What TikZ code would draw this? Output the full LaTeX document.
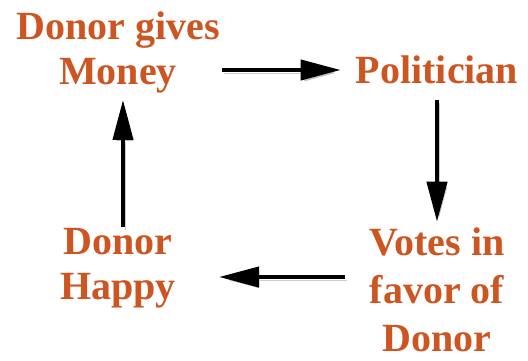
\documentclass[tikz,border=0pt]{standalone}
\usepackage{fontspec}
\setmainfont{Liberation Serif}
\usetikzlibrary{arrows.meta}
\definecolor{txt}{HTML}{CC5522}
\begin{document}
\begin{tikzpicture}[x=1pt,y=1pt,
  lbl/.style={font=\bfseries\fontsize{40}{45}\selectfont, text=txt, align=center, inner sep=2pt},
  arr/.style={line width=4pt, -{Triangle[length=40pt,width=20pt]},
    preaction={draw=black, opacity=0.2, transform canvas={xshift=2pt,yshift=-3pt}}}]
\useasboundingbox (0,0) rectangle (528,360);
\node[lbl] (dg) at (118,308) {Donor gives\\Money};
\node[lbl] (pol) at (437,290) {Politician};
\node[lbl, font=\bfseries\fontsize{40}{48}\selectfont] (votes) at (437,70) {Votes in\\favor of\\Donor};
\node[lbl] (happy) at (118,92) {Donor\\Happy};
\draw[arr] (dg.east |- pol.west) -- ([xshift=-13pt]pol.west);
\draw[arr] ([yshift=-14pt]pol.south) -- ([yshift=4pt]votes.north);
\draw[arr] ([xshift=-22pt,yshift=-9pt]votes.west |- happy.east) -- ([xshift=41pt,yshift=-9pt]happy.east);
\draw[arr] ([xshift=5pt,yshift=-1pt]happy.north) -- ([xshift=5pt,yshift=-5pt]dg.south);
\end{tikzpicture}
\end{document}
